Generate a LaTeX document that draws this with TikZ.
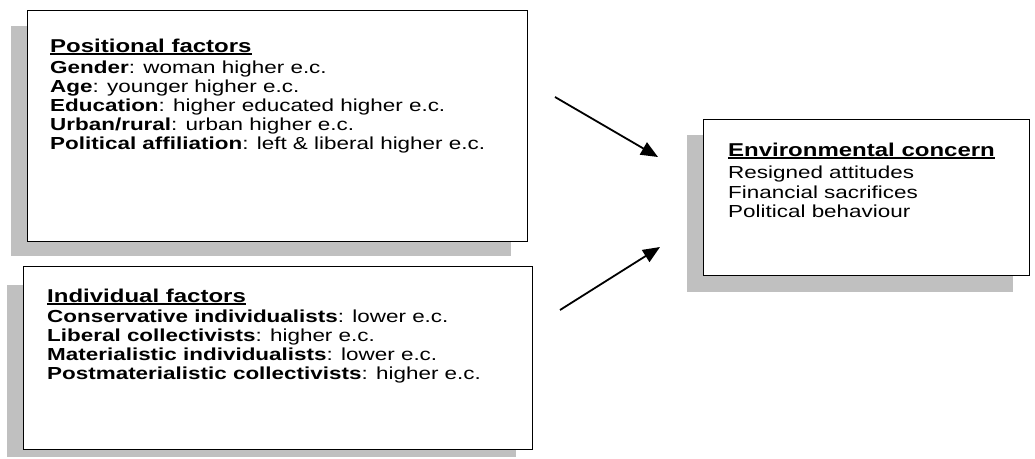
\documentclass[tikz,border=0pt]{standalone}
\usepackage{fontspec}
\setmainfont{Liberation Sans}[FakeStretch=1.29]
\usetikzlibrary{arrows.meta}
\definecolor{shadowgray}{RGB}{192,192,192}
\newcommand\myul[1]{\setbox0\hbox{#1}\rlap{\rule[-2.8pt]{\wd0}{1.7pt}}\box0}
\begin{document}
\begin{tikzpicture}[x=1pt,y=-1pt,
  frame/.style={draw=black, line width=1.4pt, fill=white, anchor=north west, inner sep=0pt},
  shade/.style={fill=shadowgray},
  body/.style={anchor=base west, inner sep=0pt, font=\fontsize{17.4}{19}\selectfont},
  head/.style={anchor=base west, inner sep=0pt, font=\fontsize{18.6}{20}\selectfont\bfseries},
  arr/.style={line width=1.8pt, -{Triangle[length=17pt,width=14pt]}}]
\useasboundingbox (0,0) rectangle (1035,458);
% shadows
\fill[shade] (11,26) rectangle (511,256);
\fill[shade] (7,285) rectangle (516,457);
\fill[shade] (687,135) rectangle (1013,292);
% boxes
\node[frame, minimum width=500pt, minimum height=231pt] (pos) at (27,10) {};
\node[frame, minimum width=509pt, minimum height=183pt] (ind) at (23,266) {};
\node[frame, minimum width=326pt, minimum height=156pt] (env) at (703,119) {};
% positional factors
\node[head] (p0) at (50,52) {\myul{Positional factors}};
\node[body] (p1) at (50,73) {\textbf{Gender}: woman higher e.c.};
\node[body] (p2) at (50,92) {\textbf{Age}: younger higher e.c.};
\node[body] (p3) at (50,111) {\textbf{Education}: higher educated higher e.c.};
\node[body] (p4) at (50,130) {\textbf{Urban/rural}: urban higher e.c.};
\node[body] (p5) at (50,149) {\textbf{Political affiliation}: left \& liberal higher e.c.};
% individual factors
\node[head] (i0) at (47,302) {\myul{Individual factors}};
\node[body] (i1) at (47,322) {\textbf{Conservative individualists}: lower e.c.};
\node[body] (i2) at (47,341) {\textbf{Liberal collectivists}: higher e.c.};
\node[body] (i3) at (47,360) {\textbf{Materialistic individualists}: lower e.c.};
\node[body] (i4) at (47,379) {\textbf{Postmaterialistic collectivists}: higher e.c.};
% environmental concern
\node[head] (e0) at (728,156) {\myul{Environmental concern}};
\node[body] (e1) at (728,178) {Resigned attitudes};
\node[body] (e2) at (728,198) {Financial sacrifices};
\node[body] (e3) at (728,217) {Political behaviour};
% arrows
\coordinate (a1s) at (555,97);
\coordinate (a1e) at (658,157);
\coordinate (a2s) at (560,310);
\coordinate (a2e) at (660,247);
\draw[arr] (a1s) -- (a1e);
\draw[arr] (a2s) -- (a2e);
\end{tikzpicture}
\end{document}
